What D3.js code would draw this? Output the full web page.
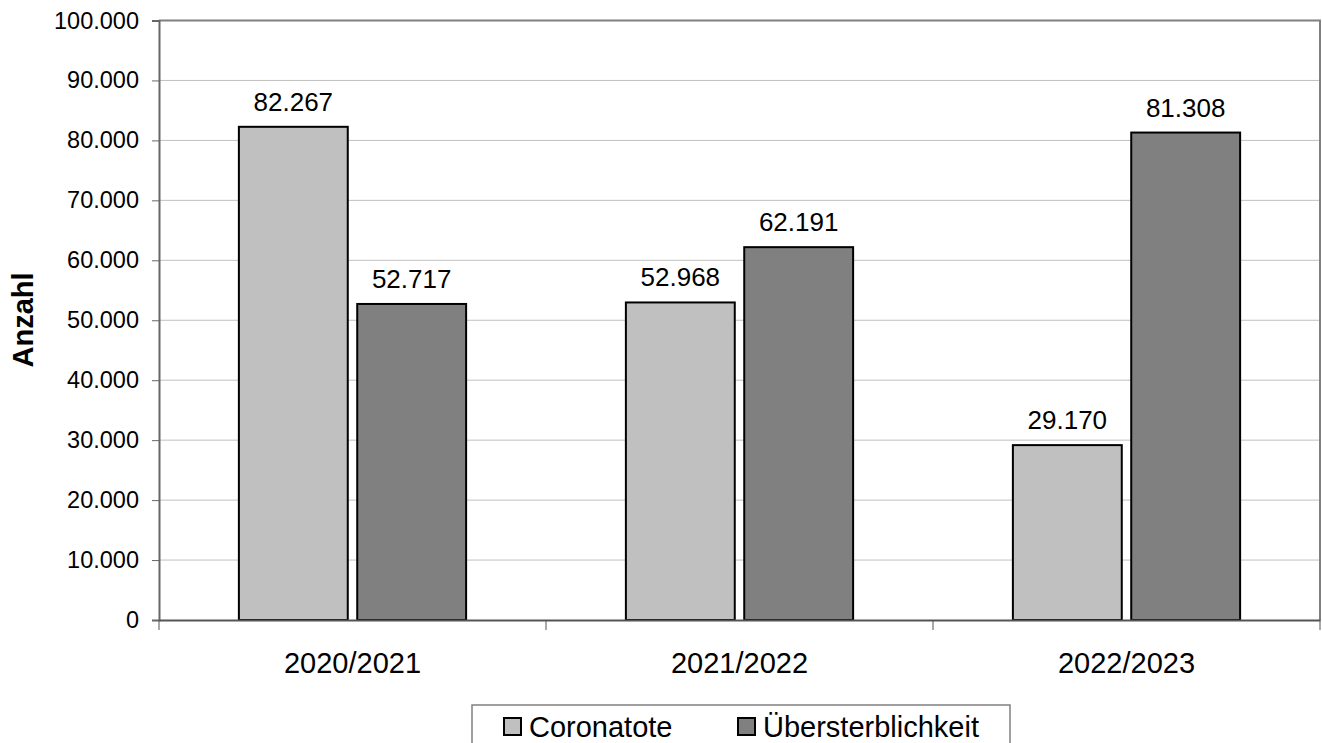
<!DOCTYPE html>
<html>
<head>
<meta charset="utf-8">
<script src="https://cdn.jsdelivr.net/npm/d3@7"></script>
<style>
  body { margin: 0; background: #fff; }
  svg { display: block; font-family: "Liberation Sans", Arial, sans-serif; }
</style>
</head>
<body>
<div id="chart"></div>
<script>
const seasons = ['2020/2021', '2021/2022', '2022/2023']
const seriesNames = ['Coronatote', 'Übersterblichkeit']
const coronatote = [82267, 52968, 29170]
const uebersterblichkeit = [52717, 62191, 81308]
const yTicks = [0, 10000, 20000, 30000, 40000, 50000, 60000, 70000, 80000, 90000, 100000]
const colors = ['#c0c0c0', '#808080']

const W = 1322, H = 743
const margin = {top: 20.5, right: 2, bottom: 123, left: 159}
const width = W - margin.left - margin.right
const height = H - margin.top - margin.bottom

// german number format: 82.267
const fmt = d3.formatLocale({decimal: ',', thousands: '.', grouping: [3], currency: ['', '€']}).format(',')

const data = seasons.map((s, i) => ({season: s, values: [coronatote[i], uebersterblichkeit[i]]}))

const svg = d3.select('#chart').append('svg')
  .attr('width', W)
  .attr('height', H)

const g = svg.append('g')
  .attr('transform', 'translate(' + margin.left + ',' + margin.top + ')')

const x0 = d3.scaleBand().domain(seasons).range([0, width]).padding(0)
const x1 = d3.scaleBand().domain([0, 1]).range([0, x0.bandwidth()])
  .paddingInner(0.08).paddingOuter(0.675)
const y = d3.scaleLinear().domain([0, 100000]).range([height, 0])

// gridlines
g.selectAll('.grid').data(yTicks.slice(1, -1)).enter().append('line')
  .attr('x1', 0).attr('x2', width)
  .attr('y1', d => y(d)).attr('y2', d => y(d))
  .attr('stroke', '#c0c0c0').attr('stroke-width', 1)

// plot frame top/right
g.append('path')
  .attr('d', 'M0,' + y(100000) + 'H' + width + 'V' + y(0))
  .attr('fill', 'none').attr('stroke', '#808080').attr('stroke-width', 2)

// bars
const grp = g.selectAll('.grp').data(data).enter().append('g')
  .attr('transform', d => 'translate(' + x0(d.season) + ',0)')

grp.selectAll('rect').data(d => d.values).enter().append('rect')
  .attr('x', (d, i) => x1(i))
  .attr('width', x1.bandwidth())
  .attr('y', d => y(d))
  .attr('height', d => y(0) - y(d))
  .attr('fill', (d, i) => colors[i])
  .attr('stroke', '#000').attr('stroke-width', 2)

grp.selectAll('.lbl').data(d => d.values).enter().append('text')
  .attr('x', (d, i) => x1(i) + x1.bandwidth() / 2)
  .attr('y', d => y(d) - 16)
  .attr('text-anchor', 'middle')
  .attr('font-size', 26)
  .attr('fill', '#000')
  .text(d => fmt(d))

// y axis
const yAxis = g.append('g')
  .call(d3.axisLeft(y).tickValues(yTicks).tickSize(7).tickPadding(13).tickFormat(fmt))
yAxis.select('.domain').attr('stroke', '#666').attr('stroke-width', 2)
yAxis.selectAll('.tick line').attr('stroke', '#666')
yAxis.selectAll('text').attr('font-size', 23.5).attr('fill', '#000')
  .style('font-family', '"Liberation Sans", Arial, sans-serif')

// x axis
const xAxis = g.append('g')
  .attr('transform', 'translate(0,' + height + ')')
  .call(d3.axisBottom(x0).tickSize(0).tickPadding(0))
xAxis.select('.domain').attr('stroke', '#555').attr('stroke-width', 2)
xAxis.selectAll('text').attr('font-size', 29).attr('fill', '#000')
  .attr('dy', 0).attr('y', 53)
  .style('font-family', '"Liberation Sans", Arial, sans-serif')

// category separator ticks
g.selectAll('.sep').data(seasons.concat([null])).enter().append('line')
  .attr('x1', d => d === null ? width : x0(d))
  .attr('x2', d => d === null ? width : x0(d))
  .attr('y1', height).attr('y2', height + 10)
  .attr('stroke', '#555').attr('stroke-width', 1)

// y axis title
svg.append('text')
  .attr('transform', 'translate(33,320) rotate(-90)')
  .attr('text-anchor', 'middle')
  .attr('font-size', 29)
  .attr('font-weight', 'bold')
  .text('Anzahl')

// legend
const legend = svg.append('g')
legend.append('rect')
  .attr('x', 472).attr('y', 705).attr('width', 538).attr('height', 60)
  .attr('fill', '#fff').attr('stroke', '#808080').attr('stroke-width', 1.5)

const legX = [504, 738]
const items = legend.selectAll('.item').data(seriesNames).enter().append('g')
  .attr('transform', (d, i) => 'translate(' + legX[i] + ',718)')
items.append('rect')
  .attr('width', 17).attr('height', 17)
  .attr('fill', (d, i) => colors[i])
  .attr('stroke', '#000').attr('stroke-width', 2)
items.append('text')
  .attr('x', 25).attr('y', 18.5)
  .attr('font-size', 29)
  .text(d => d)
</script>
</body>
</html>
